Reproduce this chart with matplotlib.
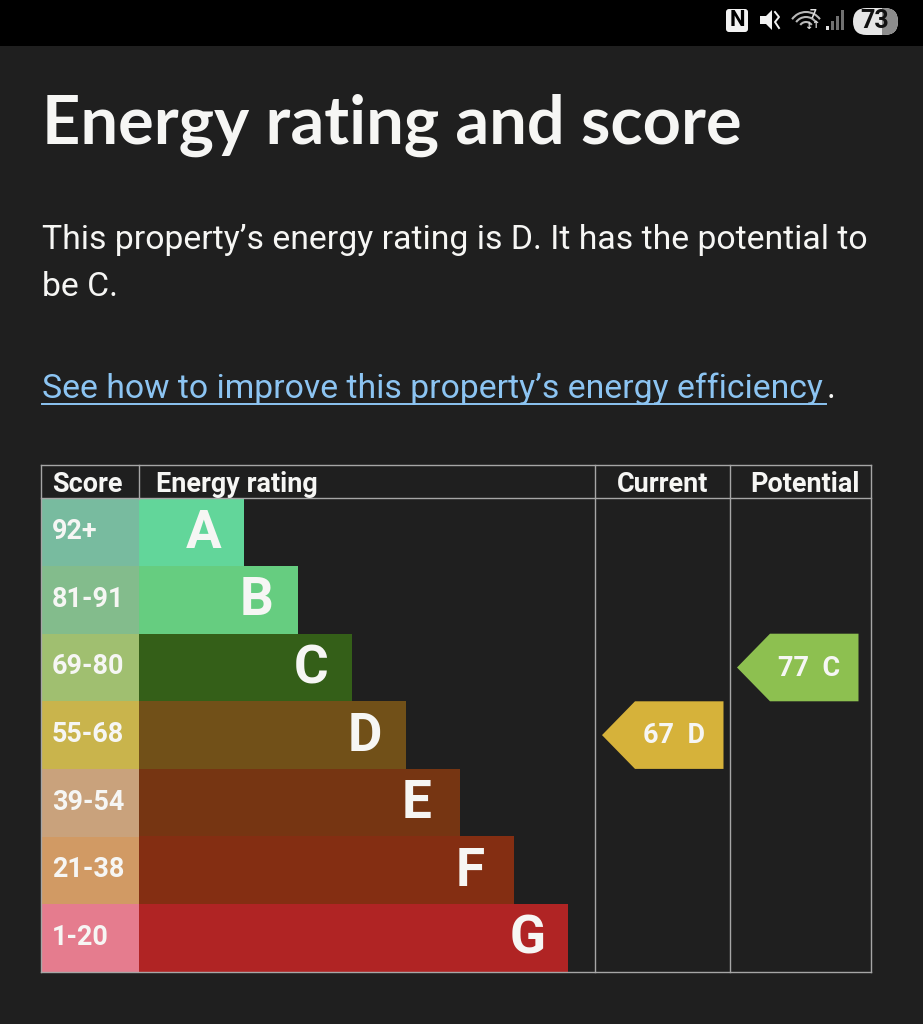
import numpy as np
import matplotlib
matplotlib.use("Agg")
import matplotlib.pyplot as plt
from matplotlib.patches import Rectangle, Polygon, FancyBboxPatch, Arc

# chart data
scores = ["92+", "81-91", "69-80", "55-68", "39-54", "21-38", "1-20"]
letters = ["A", "B", "C", "D", "E", "F", "G"]
band_widths = [105, 159, 213, 267, 321, 375, 429]
band_colors = ["#62d69a", "#66cd80", "#345f18", "#715018", "#763512", "#842e12", "#b02424"]
score_colors = ["#78bb9f", "#83bc8c", "#a0bf70", "#c9b44c", "#c9a27c", "#d19a64", "#e57c8e"]
headers = ["Score", "Energy rating", "Current", "Potential"]
current_score, current_letter, current_band = 67, "D", 3
potential_score, potential_letter, potential_band = 77, "C", 2

BG = "#1f1f1f"
LINE = "#a6a6a6"
WHITE = "#f6f6f4"

fig = plt.figure(figsize=(9.23, 10.24), dpi=100, facecolor=BG)
ax = fig.add_axes([0, 0, 1, 1])
ax.set_xlim(0, 923)
ax.set_ylim(1024, 0)
ax.axis("off")


def px(n):
    return n * 0.72


# status bar
ax.add_patch(Rectangle((0, 0), 923, 46, fc="black", ec="none"))
ax.add_patch(FancyBboxPatch((726, 9), 22, 23, boxstyle="round,pad=0,rounding_size=3", fc="#f2f2f2", ec="none"))
ax.text(737, 20.5, "N", color="black", ha="center", va="center", fontsize=px(22), family="Roboto", weight="bold")
ax.add_patch(Polygon([(760, 16), (766, 16), (772, 10), (772, 30), (766, 24), (760, 24)], fc="#f2f2f2", ec="none"))
ax.plot([775, 779, 775, 779], [12, 17, 22, 28], color="#f2f2f2", lw=1.4)
for r in [7, 12, 17]:
    ax.add_patch(Arc((806, 29), 2 * r, 2 * r, theta1=215, theta2=325, color="#b8b8b8", lw=1.5))
ax.text(813, 14, "7", color="#e0e0e0", ha="center", va="center", fontsize=px(12), family="Roboto", weight="bold")
ax.text(808, 26, "↓", color="#e0e0e0", ha="center", va="center", fontsize=px(10), weight="bold")
ax.text(815, 25, "↑", color="#e0e0e0", ha="center", va="center", fontsize=px(10), weight="bold")
for i, (h, c) in enumerate(zip([4, 9, 14, 20], ["#e0e0e0", "#707070", "#707070", "#707070"])):
    ax.add_patch(Rectangle((826 + i * 5, 30 - h), 3, h, fc=c, ec="none"))
pill = FancyBboxPatch((853, 8), 45, 27, boxstyle="round,pad=0,rounding_size=13.5", fc="#e6e6e6", ec="none")
ax.add_patch(pill)
dark = Rectangle((882, 8), 16, 27, fc="#8c8c8c", ec="none")
ax.add_patch(dark)
dark.set_clip_path(pill)
ax.text(875, 21.5, "73", color="#111111", ha="center", va="center", fontsize=px(25), family="Roboto", weight="bold")

# heading and body
ax.text(42, 125, "Energy rating and score", color=WHITE, va="center", fontsize=px(66.8), family="Lato", weight="bold")
ax.text(41.5, 240.5, "This property’s energy rating is D. It has the potential to", color=WHITE, va="center",
        fontsize=px(33.8), family="Roboto")
ax.text(41.5, 286.5, "be C.", color=WHITE, va="center", fontsize=px(33.8), family="Roboto")
ax.text(41.5, 388.5, "See how to improve this property’s energy efficiency", color="#8cc4f2", va="center",
        fontsize=px(33.8), family="Roboto")
ax.plot([42, 826], [404, 404], color="#8cc4f2", lw=1.4)
ax.text(827, 388.5, ".", color=WHITE, va="center", fontsize=px(33.8), family="Roboto")

# table bands
top = 498.5
row_h = 67.6
letter_shift = [0, 1, 0, 1, 3, 3, 0]
for i, (s, l, w, bc, sc) in enumerate(zip(scores, letters, band_widths, band_colors, score_colors)):
    y = top + i * row_h
    ax.add_patch(Rectangle((41.5, y), 97.5, row_h, fc=sc, ec="none"))
    ax.barh(y + row_h / 2, w, height=row_h + 0.3, left=139, color=bc, linewidth=0)
    ax.text(52, y + row_h / 2 - 0.5, s, color=WHITE, va="center", fontsize=px(27), family="Roboto", weight="bold")
    ax.text(139 + w - 40.5 - letter_shift[i], y + row_h / 2 + 1, l, color=WHITE, ha="center", va="center",
            fontsize=px(53), family="Roboto", weight="bold")

# table grid
bottom = top + 7 * row_h
for x in [41, 595, 730, 871]:
    ax.plot([x, x], [465, bottom], color=LINE, lw=1)
ax.plot([138.5, 138.5], [465, top], color=LINE, lw=1)
ax.plot([41, 871], [465, 465], color=LINE, lw=1)
ax.plot([41, 871], [498, 498], color=LINE, lw=1)
ax.plot([41, 871], [bottom, bottom], color=LINE, lw=1)

header_x = [52, 156, 662.5, 804.5]
header_ha = ["left", "left", "center", "center"]
for t, x, ha in zip(headers, header_x, header_ha):
    ax.text(x, 484.5, t, color=WHITE, ha=ha, va="center", fontsize=px(27), family="Roboto", weight="bold")


# arrows for current and potential
def arrow(xl, xm, xr, band, color, label):
    y = top + band * row_h
    ax.add_patch(Polygon([(xl, y + row_h / 2), (xm, y), (xr, y), (xr, y + row_h), (xm, y + row_h)], fc=color, ec="none"))
    ax.text((xl + xr) / 2 + 11, y + row_h / 2 + 0.5, label, color=WHITE, ha="center", va="center",
            fontsize=px(27), family="Roboto", weight="bold")


arrow(602, 635, 723.5, current_band, "#d6b23a", f"{current_score}  {current_letter}")
arrow(737, 770, 858.5, potential_band, "#8dc050", f"{potential_score}  {potential_letter}")

fig.savefig("out.png", dpi=100, facecolor=BG)
